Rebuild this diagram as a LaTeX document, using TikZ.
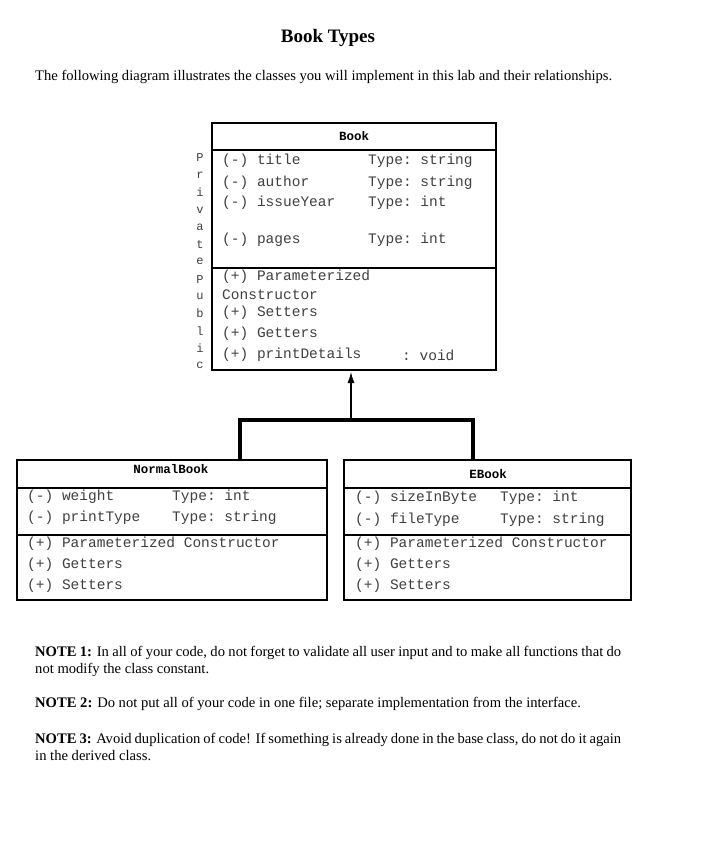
\documentclass[tikz,border=0pt]{standalone}
\usepackage{fontspec}
\usetikzlibrary{arrows.meta}
\setmainfont{Liberation Serif}
\setmonofont{Liberation Mono}
\begin{document}
\begin{tikzpicture}[x=1pt,y=-1pt,
  box/.style={draw,line width=2.4pt},
  sep/.style={line width=2pt},
  mt/.style={anchor=west,inner sep=0,font=\fontsize{14.5}{14.5}\ttfamily,text=black!75},
  hd/.style={inner sep=0,font=\fontsize{12.5}{12.5}\ttfamily\bfseries},
  pt/.style={inner sep=0,font=\fontsize{14.6}{17}\selectfont,anchor=north west,text width=586pt,align=justify},
  conn/.style={line width=4pt}]
\useasboundingbox[fill=white] (0,0) rectangle (704,864);
\node[inner sep=0,font=\fontsize{19}{19}\bfseries] (ttl) at (328,38) {Book Types};
\node[pt] (intro) at (35,70) {The following diagram illustrates the classes you will implement in this lab and their relationships.};
% Book
\draw[box] (212,123) rectangle (496,370);
\draw[sep] (212,150) -- (496,150);
\draw[sep] (212,268) -- (496,268);
\node[hd] (bk) at (354,136) {Book};
\node[mt] (b1) at (222,161) {(-) title};
\node[mt] (b1t) at (368,161) {Type: string};
\node[mt] (b2) at (222,183) {(-) author};
\node[mt] (b2t) at (368,183) {Type: string};
\node[mt] (b3) at (222,203) {(-) issueYear};
\node[mt] (b3t) at (368,203) {Type: int};
\node[mt] (b4) at (222,240) {(-) pages};
\node[mt] (b4t) at (368,240) {Type: int};
\node[mt] (b5) at (222,277) {(+) Parameterized};
\node[mt] (b6) at (222,295) {Constructor};
\node[mt] (b7) at (222,313) {(+) Setters};
\node[mt] (b8) at (222,334) {(+) Getters};
\node[mt] (b9) at (222,355) {(+) printDetails};
\node[mt] (b9t) at (402,355) {: void};
\foreach \c [count=\i from 0] in {P,r,i,v,a,t,e,P,u,b,l,i,c}
  \node[inner sep=0,font=\fontsize{12}{12}\ttfamily,text=black!75] (v\i) at (200,{158+\i*17.3}) {\c};
% connectors
\coordinate (top) at (351,372);
\coordinate (mid) at (351,420);
\coordinate (l) at (240,420);
\coordinate (r) at (473,420);
\coordinate (ld) at (240,460);
\coordinate (rd) at (473,460);
\draw[line width=1.2pt,-{Latex[length=11pt,width=7pt]}] (mid) -- (top);
\draw[conn] (ld) -- (l) -- (r) -- (rd);
% NormalBook
\draw[box] (17,460) rectangle (327,600);
\draw[sep] (17,488) -- (327,488);
\draw[sep] (17,535) -- (327,535);
\node[hd] (nb) at (171,469) {NormalBook};
\node[mt] (n1) at (27,497) {(-) weight};
\node[mt] (n1t) at (172,497) {Type: int};
\node[mt] (n2) at (27,518) {(-) printType};
\node[mt] (n2t) at (172,518) {Type: string};
\node[mt] (n3) at (27,544) {(+) Parameterized Constructor};
\node[mt] (n4) at (27,565) {(+) Getters};
\node[mt] (n5) at (27,586) {(+) Setters};
% EBook
\draw[box] (344,460) rectangle (631,600);
\draw[sep] (344,488) -- (631,488);
\draw[sep] (344,535) -- (631,535);
\node[hd] (eb) at (488,474) {EBook};
\node[mt] (e1) at (355,498) {(-) sizeInByte};
\node[mt] (e1t) at (500,498) {Type: int};
\node[mt] (e2) at (355,520) {(-) fileType};
\node[mt] (e2t) at (500,520) {Type: string};
\node[mt] (e3) at (355,544) {(+) Parameterized Constructor};
\node[mt] (e4) at (355,565) {(+) Getters};
\node[mt] (e5) at (355,586) {(+) Setters};
% notes
\node[pt] (n1x) at (35,646) {\textbf{NOTE 1:} In all of your code, do not forget to validate all user input and to make all functions that do not modify the class constant.};
\node[pt] (n2x) at (35,697) {\textbf{NOTE 2:} Do not put all of your code in one file; separate implementation from the interface.};
\node[pt] (n3x) at (35,733) {\textbf{NOTE 3:} Avoid duplication of code! If something is already done in the base class, do not do it again in the derived class.};
\end{tikzpicture}
\end{document}
